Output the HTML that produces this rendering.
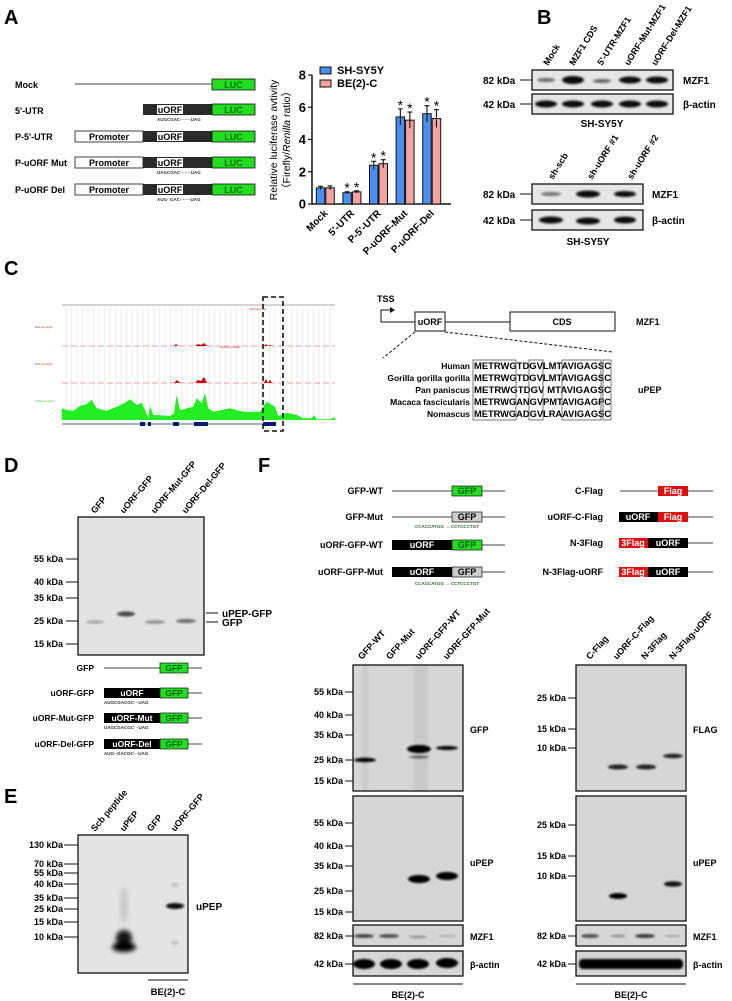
<!DOCTYPE html>
<html><head><meta charset="utf-8">
<style>
html,body{margin:0;padding:0;background:#fff;}
svg{display:block;font-family:"Liberation Sans",sans-serif;}
.b{font-weight:bold;}
.pl{font-size:20px;font-weight:bold;}
.seq{font-size:4.5px;font-weight:bold;fill:#333;}
.blot{stroke:#111;stroke-width:1.3;}
</style></head>
<body>
<svg id="fig" width="732" height="1001" viewBox="0 0 732 1001">
<defs>
<filter id="bl" x="-50%" y="-100%" width="200%" height="300%"><feGaussianBlur stdDeviation="1.1"/></filter>
<filter id="bl2" x="-50%" y="-100%" width="200%" height="300%"><feGaussianBlur stdDeviation="2.5"/></filter>
</defs>

<text class="pl" x="4" y="24">A</text>
<text class="pl" x="537" y="24">B</text>
<text class="pl" x="4" y="275">C</text>
<text class="pl" x="4" y="472">D</text>
<text class="pl" x="4" y="803">E</text>
<text class="pl" x="258" y="472">F</text>

<g font-size="9" font-weight="bold">
 <text x="15" y="88">Mock</text>
 <line x1="75" y1="84" x2="212" y2="84" stroke="#444" stroke-width="1"/>
 <rect x="212" y="79" width="43" height="11" fill="#22dd22" stroke="#111" stroke-width="0.8"/>
 <text x="233.5" y="88" text-anchor="middle" fill="#070">LUC</text>

 <text x="15" y="114">5'-UTR</text>
 <rect x="143" y="104" width="69" height="11" fill="#2a2a2a"/>
 <rect x="157" y="105" width="26" height="9" fill="#fff"/>
 <text x="170" y="113" text-anchor="middle">uORF</text>
 <rect x="212" y="104" width="43" height="11" fill="#22dd22" stroke="#111" stroke-width="0.8"/>
 <text x="233.5" y="113" text-anchor="middle" fill="#070">LUC</text>
 <text class="seq" x="157" y="121">AUGCGAC·······UAG</text>

 <text x="15" y="140">P-5'-UTR</text>
 <rect x="75" y="131" width="68" height="11" fill="#fff" stroke="#111" stroke-width="0.8"/>
 <text x="109" y="140" text-anchor="middle">Promoter</text>
 <rect x="143" y="131" width="69" height="11" fill="#2a2a2a"/>
 <rect x="157" y="132" width="26" height="9" fill="#fff"/>
 <text x="170" y="140" text-anchor="middle">uORF</text>
 <rect x="212" y="131" width="43" height="11" fill="#22dd22" stroke="#111" stroke-width="0.8"/>
 <text x="233.5" y="140" text-anchor="middle" fill="#070">LUC</text>

 <text x="15" y="166">P-uORF Mut</text>
 <rect x="75" y="157" width="68" height="11" fill="#fff" stroke="#111" stroke-width="0.8"/>
 <text x="109" y="166" text-anchor="middle">Promoter</text>
 <rect x="143" y="157" width="69" height="11" fill="#2a2a2a"/>
 <rect x="157" y="158" width="26" height="9" fill="#fff"/>
 <text x="170" y="166" text-anchor="middle">uORF</text>
 <rect x="212" y="157" width="43" height="11" fill="#22dd22" stroke="#111" stroke-width="0.8"/>
 <text x="233.5" y="166" text-anchor="middle" fill="#070">LUC</text>
 <text class="seq" x="157" y="174">UAGCGAC·······UAG</text>

 <text x="15" y="193">P-uORF Del</text>
 <rect x="75" y="184" width="68" height="11" fill="#fff" stroke="#111" stroke-width="0.8"/>
 <text x="109" y="193" text-anchor="middle">Promoter</text>
 <rect x="143" y="184" width="69" height="11" fill="#2a2a2a"/>
 <rect x="157" y="185" width="26" height="9" fill="#fff"/>
 <text x="170" y="193" text-anchor="middle">uORF</text>
 <rect x="212" y="184" width="43" height="11" fill="#22dd22" stroke="#111" stroke-width="0.8"/>
 <text x="233.5" y="193" text-anchor="middle" fill="#070">LUC</text>
 <text class="seq" x="157" y="201">AUG··GAC·······UAG</text>
</g>

<g id="barchart"></g>

<g font-weight="bold">
 <g font-size="9">
  <text transform="translate(548,66) rotate(-58)">Mock</text>
  <text transform="translate(574,66) rotate(-58)">MZF1 CDS</text>
  <text transform="translate(602,66) rotate(-58)">5'-UTR-MZF1</text>
  <text transform="translate(629,66) rotate(-58)">uORF-Mut-MZF1</text>
  <text transform="translate(656,66) rotate(-58)">uORF-Del-MZF1</text>
 </g>
 <rect class="blot" x="532" y="70" width="141" height="20" fill="#e6e6e6"/>
 <rect class="blot" x="532" y="94" width="141" height="20" fill="#e6e6e6"/>
 <g filter="url(#bl)" fill="#111">
  <ellipse cx="546" cy="80" rx="9" ry="2" opacity="0.6"/>
  <ellipse cx="573" cy="80" rx="11" ry="4"/>
  <ellipse cx="602" cy="81" rx="9" ry="2" opacity="0.6"/>
  <ellipse cx="630" cy="80" rx="11" ry="3.5"/>
  <ellipse cx="657" cy="80" rx="11" ry="3.5"/>
  <ellipse cx="546" cy="104" rx="11" ry="3.5"/>
  <ellipse cx="573" cy="104" rx="11" ry="3.5"/>
  <ellipse cx="602" cy="104" rx="11" ry="3.5"/>
  <ellipse cx="630" cy="104" rx="11" ry="3.5"/>
  <ellipse cx="657" cy="104" rx="11" ry="3.5"/>
 </g>
 <g font-size="10">
  <text x="483" y="84">82 kDa</text><line x1="520" y1="80" x2="532" y2="80" stroke="#111"/>
  <text x="483" y="108">42 kDa</text><line x1="520" y1="104" x2="532" y2="104" stroke="#111"/>
  <text x="683" y="84">MZF1</text>
  <text x="683" y="108">β-actin</text>
  <text x="602" y="127" text-anchor="middle">SH-SY5Y</text>
 </g>
 <g font-size="9">
  <text transform="translate(553,180) rotate(-58)">sh-scb</text>
  <text transform="translate(592,180) rotate(-58)">sh-uORF #1</text>
  <text transform="translate(632,180) rotate(-58)">sh-uORF #2</text>
 </g>
 <rect class="blot" x="532" y="184" width="111" height="20" fill="#e6e6e6"/>
 <rect class="blot" x="532" y="210" width="111" height="20" fill="#e6e6e6"/>
 <g filter="url(#bl)" fill="#111">
  <ellipse cx="551" cy="194" rx="10" ry="2" opacity="0.55"/>
  <ellipse cx="588" cy="194" rx="12" ry="3.5"/>
  <ellipse cx="625" cy="194" rx="11" ry="3"/>
  <ellipse cx="551" cy="220" rx="12" ry="3.5"/>
  <ellipse cx="588" cy="221" rx="12" ry="3.5"/>
  <ellipse cx="625" cy="220" rx="11" ry="3.5"/>
 </g>
 <g font-size="10">
  <text x="483" y="198">82 kDa</text><line x1="520" y1="194" x2="532" y2="194" stroke="#111"/>
  <text x="483" y="224">42 kDa</text><line x1="520" y1="220" x2="532" y2="220" stroke="#111"/>
  <text x="652" y="198">MZF1</text>
  <text x="652" y="224">β-actin</text>
  <text x="588" y="245" text-anchor="middle">SH-SY5Y</text>
 </g>
</g>

<g id="browser">
 <line x1="62" y1="305" x2="335" y2="305" stroke="#555" stroke-width="0.6"/>
 <g id="gridlines" stroke="#ddd" stroke-width="0.5"></g>
 <g font-size="2.5" fill="#c33">
  <text x="35" y="328">Ribo-seq signal</text><text x="35" y="365">Ribo-seq signal</text>
  <text x="250" y="310">RiboSeq P-site</text><text x="220" y="348">RiboSeq coverage</text>
 </g>
 <text x="35" y="402" font-size="2.5" fill="#3c3">mRNA-seq signal</text>
 <line x1="62" y1="346" x2="335" y2="346" stroke="#e44" stroke-width="0.6" stroke-dasharray="6,3"/>
 <line x1="62" y1="383" x2="335" y2="383" stroke="#e44" stroke-width="0.6" stroke-dasharray="6,3"/>
 <g fill="#c00">
  <path d="M174,346l2,-2l2,2z M195,346l3,-2l3,1l3,-2l3,3z M264,346l2,-2l2,2l2,-1l2,1z"/>
  <path d="M174,383l3,-3l3,3z M195,383l3,-3l3,1l3,-4l3,6z M264,383l2,-4l2,4l2,-3l2,3z"/>
 </g>
 <path id="greenArea" fill="#22ee22" d=""/>
 <line x1="62" y1="424" x2="276" y2="424" stroke="#224" stroke-width="0.8"/>
 <g fill="#0a1a6a">
  <rect x="140" y="422" width="5" height="4"/><rect x="148" y="422" width="3" height="4"/>
  <rect x="173" y="422" width="6" height="4"/><rect x="194" y="422" width="14" height="4"/>
  <rect x="263" y="422" width="13" height="4"/>
 </g>
 <rect x="263" y="297" width="20" height="134" fill="none" stroke="#111" stroke-width="1.6" stroke-dasharray="5,3"/>
</g>

<g font-weight="bold">
 <text x="377" y="302" font-size="9">TSS</text>
 <polyline points="381,322 381,310 392,310" fill="none" stroke="#111" stroke-width="1"/>
 <polygon points="395,310 390,307 390,313" fill="#111"/>
 <line x1="381" y1="322" x2="615" y2="322" stroke="#111" stroke-width="1"/>
 <rect x="415" y="312" width="30" height="19" fill="#fff" stroke="#111"/>
 <text x="430" y="325" font-size="9" text-anchor="middle">uORF</text>
 <rect x="510" y="312" width="105" height="19" fill="#fff" stroke="#111"/>
 <text x="562" y="325" font-size="9" text-anchor="middle">CDS</text>
 <text x="636" y="325" font-size="9">MZF1</text>
 <line x1="415" y1="332" x2="383" y2="358" stroke="#111" stroke-dasharray="3,2"/>
 <line x1="445" y1="332" x2="613" y2="352" stroke="#111" stroke-dasharray="3,2"/>
 <g font-size="8.5" text-anchor="end" font-family="Liberation Sans Narrow, Liberation Sans, sans-serif">
  <text x="470" y="369">Human</text>
  <text x="470" y="381">Gorilla gorilla gorilla</text>
  <text x="470" y="393">Pan paniscus</text>
  <text x="470" y="405">Macaca fascicularis</text>
  <text x="470" y="417">Nomascus</text>
 </g>
 <g font-size="9" id="seqs"></g>
 <g fill="none" stroke="#555" stroke-width="0.8">
  <rect x="473" y="360" width="43" height="60"/>
  <rect x="529" y="360" width="14" height="60"/>
  <rect x="562" y="360" width="39" height="60"/>
  <rect x="603" y="360" width="8" height="60"/>
 </g>
 <text x="638" y="393" font-size="9">uPEP</text>
</g>

<g font-weight="bold">
 <g font-size="9">
  <text transform="translate(95,514) rotate(-50)">GFP</text>
  <text transform="translate(124,514) rotate(-50)">uORF-GFP</text>
  <text transform="translate(155,514) rotate(-50)">uORF-Mut-GFP</text>
  <text transform="translate(186,514) rotate(-50)">uORF-Del-GFP</text>
 </g>
 <rect class="blot" x="78" y="517" width="126" height="138" fill="#e2e2e2"/>
 <g filter="url(#bl)" fill="#222">
  <ellipse cx="95" cy="622" rx="9" ry="1.5" opacity="0.35"/>
  <ellipse cx="126" cy="614" rx="9" ry="2.5" opacity="0.8"/>
  <ellipse cx="155" cy="622" rx="10" ry="1.8" opacity="0.45"/>
  <ellipse cx="186" cy="621" rx="10" ry="2" opacity="0.6"/>
 </g>
 <g font-size="9" text-anchor="end">
  <text x="63" y="562">55 kDa</text><text x="63" y="585">40 kDa</text><text x="63" y="601">35 kDa</text>
  <text x="63" y="624">25 kDa</text><text x="63" y="647">15 kDa</text>
 </g>
 <g stroke="#111">
  <line x1="66" y1="559" x2="78" y2="559"/><line x1="66" y1="582" x2="78" y2="582"/><line x1="66" y1="598" x2="78" y2="598"/>
  <line x1="66" y1="621" x2="78" y2="621"/><line x1="66" y1="644" x2="78" y2="644"/>
  <line x1="206" y1="613" x2="218" y2="613"/><line x1="206" y1="622" x2="218" y2="622"/>
 </g>
 <text x="222" y="617" font-size="10">uPEP-GFP</text>
 <text x="222" y="626" font-size="10">GFP</text>
 <g font-size="8.5">
  <text x="94" y="671" text-anchor="end">GFP</text>
  <line x1="104" y1="668" x2="202" y2="668" stroke="#444"/>
  <rect x="160" y="663" width="28" height="10" fill="#22dd22" stroke="#111" stroke-width="0.7"/>
  <text x="174" y="671" text-anchor="middle" fill="#060">GFP</text>

  <text x="94" y="696" text-anchor="end">uORF-GFP</text>
  <line x1="104" y1="693" x2="202" y2="693" stroke="#444"/>
  <rect x="104" y="688" width="56" height="10" fill="#000"/>
  <text x="132" y="696" text-anchor="middle" fill="#fff">uORF</text>
  <rect x="160" y="688" width="28" height="10" fill="#22dd22" stroke="#111" stroke-width="0.7"/>
  <text x="174" y="696" text-anchor="middle" fill="#060">GFP</text>
  <text class="seq" x="104" y="704">AUGCGACGC···UAG</text>

  <text x="94" y="721" text-anchor="end">uORF-Mut-GFP</text>
  <line x1="104" y1="718" x2="202" y2="718" stroke="#444"/>
  <rect x="104" y="713" width="56" height="10" fill="#000"/>
  <text x="132" y="721" text-anchor="middle" fill="#fff">uORF-Mut</text>
  <rect x="160" y="713" width="28" height="10" fill="#22dd22" stroke="#111" stroke-width="0.7"/>
  <text x="174" y="721" text-anchor="middle" fill="#060">GFP</text>
  <text class="seq" x="104" y="729">UAGCGACGC···UAG</text>

  <text x="94" y="747" text-anchor="end">uORF-Del-GFP</text>
  <line x1="104" y1="744" x2="202" y2="744" stroke="#444"/>
  <rect x="104" y="739" width="56" height="10" fill="#000"/>
  <text x="132" y="747" text-anchor="middle" fill="#fff">uORF-Del</text>
  <rect x="160" y="739" width="28" height="10" fill="#22dd22" stroke="#111" stroke-width="0.7"/>
  <text x="174" y="747" text-anchor="middle" fill="#060">GFP</text>
  <text class="seq" x="104" y="755">AUG··GACGC···UAG</text>
 </g>
</g>

<g font-weight="bold">
 <g font-size="9">
  <text transform="translate(95,832) rotate(-50)">Scb peptide</text>
  <text transform="translate(124,832) rotate(-50)">uPEP</text>
  <text transform="translate(151,832) rotate(-50)">GFP</text>
  <text transform="translate(175,832) rotate(-50)">uORF-GFP</text>
 </g>
 <rect class="blot" x="78" y="835" width="110" height="138" fill="#e4e4e4"/>
 <g filter="url(#bl2)" fill="#000">
  <ellipse cx="124" cy="905" rx="4" ry="18" opacity="0.12"/>
  <ellipse cx="124" cy="938" rx="8" ry="8" opacity="0.9"/>
  <ellipse cx="124" cy="947" rx="12" ry="5"/>
 </g>
 <g filter="url(#bl)" fill="#111">
  <ellipse cx="175" cy="906" rx="9" ry="3"/>
  <ellipse cx="175" cy="885" rx="4" ry="2" opacity="0.15"/>
  <ellipse cx="175" cy="943" rx="4" ry="2" opacity="0.15"/>
 </g>
 <g font-size="9" text-anchor="end">
  <text x="63" y="848">130 kDa</text><text x="63" y="867">70 kDa</text><text x="63" y="876">55 kDa</text>
  <text x="63" y="887">40 kDa</text><text x="63" y="901">35 kDa</text><text x="63" y="912">25 kDa</text>
  <text x="63" y="925">15 kDa</text><text x="63" y="940">10 kDa</text>
 </g>
 <g stroke="#111">
  <line x1="64" y1="845" x2="78" y2="845"/><line x1="64" y1="864" x2="78" y2="864"/><line x1="64" y1="873" x2="78" y2="873"/>
  <line x1="64" y1="884" x2="78" y2="884"/><line x1="64" y1="898" x2="78" y2="898"/><line x1="64" y1="909" x2="78" y2="909"/>
  <line x1="64" y1="922" x2="78" y2="922"/><line x1="64" y1="937" x2="78" y2="937"/>
  <line x1="148" y1="980" x2="188" y2="980"/>
 </g>
 <text x="196" y="910" font-size="10">uPEP</text>
 <text x="168" y="995" font-size="9.5" text-anchor="middle">BE(2)-C</text>
</g>

<g font-weight="bold" font-size="9">
 <text x="383" y="494" text-anchor="end">GFP-WT</text>
 <line x1="392" y1="491" x2="505" y2="491" stroke="#444"/>
 <rect x="452" y="486" width="30" height="10" fill="#22dd22" stroke="#111" stroke-width="0.7"/>
 <text x="467" y="494" text-anchor="middle" fill="#060">GFP</text>

 <text x="383" y="520" text-anchor="end">GFP-Mut</text>
 <line x1="392" y1="517" x2="505" y2="517" stroke="#444"/>
 <rect x="452" y="512" width="30" height="10" fill="#ccc" stroke="#111" stroke-width="0.7"/>
 <text x="467" y="520" text-anchor="middle">GFP</text>
 <text x="415" y="528" font-size="4.5" fill="#363">CCACCATGG → CCTCCCTGT</text>

 <text x="383" y="548" text-anchor="end">uORF-GFP-WT</text>
 <line x1="392" y1="545" x2="505" y2="545" stroke="#444"/>
 <rect x="392" y="540" width="60" height="10" fill="#000"/>
 <text x="422" y="548" text-anchor="middle" fill="#fff">uORF</text>
 <rect x="452" y="540" width="30" height="10" fill="#22dd22" stroke="#111" stroke-width="0.7"/>
 <text x="467" y="548" text-anchor="middle" fill="#060">GFP</text>

 <text x="383" y="575" text-anchor="end">uORF-GFP-Mut</text>
 <line x1="392" y1="572" x2="505" y2="572" stroke="#444"/>
 <rect x="392" y="567" width="60" height="10" fill="#000"/>
 <text x="422" y="575" text-anchor="middle" fill="#fff">uORF</text>
 <rect x="452" y="567" width="30" height="10" fill="#ccc" stroke="#111" stroke-width="0.7"/>
 <text x="467" y="575" text-anchor="middle">GFP</text>
 <text x="415" y="585" font-size="4.5" fill="#363">CCACCATGG → CCTCCCTGT</text>

 <text x="603" y="494" text-anchor="end">C-Flag</text>
 <line x1="620" y1="491" x2="713" y2="491" stroke="#444"/>
 <rect x="658" y="486" width="30" height="10" fill="#dd1111"/>
 <text x="673" y="494" text-anchor="middle" fill="#fff">Flag</text>

 <text x="603" y="520" text-anchor="end">uORF-C-Flag</text>
 <line x1="620" y1="517" x2="713" y2="517" stroke="#444"/>
 <rect x="619" y="512" width="39" height="10" fill="#000"/>
 <text x="638" y="520" text-anchor="middle" fill="#fff">uORF</text>
 <rect x="658" y="512" width="30" height="10" fill="#dd1111"/>
 <text x="673" y="520" text-anchor="middle" fill="#fff">Flag</text>

 <text x="603" y="546" text-anchor="end">N-3Flag</text>
 <line x1="620" y1="543" x2="713" y2="543" stroke="#444"/>
 <rect x="619" y="538" width="29" height="10" fill="#dd1111"/>
 <text x="633" y="546" text-anchor="middle" fill="#fff">3Flag</text>
 <rect x="648" y="538" width="40" height="10" fill="#000"/>
 <text x="668" y="546" text-anchor="middle" fill="#fff">uORF</text>

 <text x="603" y="575" text-anchor="end">N-3Flag-uORF</text>
 <line x1="620" y1="572" x2="713" y2="572" stroke="#444"/>
 <rect x="619" y="567" width="29" height="10" fill="#dd1111"/>
 <text x="633" y="575" text-anchor="middle" fill="#fff">3Flag</text>
 <rect x="648" y="567" width="40" height="10" fill="#000"/>
 <text x="668" y="575" text-anchor="middle" fill="#fff">uORF</text>
</g>

<g font-weight="bold">
 <g font-size="9">
  <text transform="translate(362,660) rotate(-48)">GFP-WT</text>
  <text transform="translate(390,660) rotate(-48)">GFP-Mut</text>
  <text transform="translate(419,660) rotate(-48)">uORF-GFP-WT</text>
  <text transform="translate(447,660) rotate(-48)">uORF-GFP-Mut</text>
 </g>
 <rect class="blot" x="353" y="665" width="110" height="126" fill="#d6d6d6"/>
 <rect class="blot" x="353" y="796" width="110" height="125" fill="#d6d6d6"/>
 <rect class="blot" x="353" y="925" width="110" height="21" fill="#d6d6d6"/>
 <rect class="blot" x="353" y="951" width="110" height="25" fill="#d6d6d6"/>
 <g filter="url(#bl)" fill="#000">
  <rect x="362" y="665" width="6" height="126" opacity="0.05"/>
  <rect x="414" y="665" width="14" height="126" opacity="0.06"/>
  <ellipse cx="365" cy="760" rx="11" ry="2.2"/>
  <ellipse cx="419" cy="749" rx="12" ry="4"/>
  <ellipse cx="419" cy="757" rx="10" ry="1.2" opacity="0.6"/>
  <ellipse cx="447" cy="748" rx="11" ry="2"/>
  <ellipse cx="419" cy="879" rx="11" ry="4"/>
  <ellipse cx="447" cy="876" rx="11" ry="4"/>
  <ellipse cx="364" cy="936" rx="10" ry="1.8" opacity="0.75"/>
  <ellipse cx="389" cy="936" rx="10" ry="1.8" opacity="0.7"/>
  <ellipse cx="418" cy="937" rx="9" ry="1.2" opacity="0.35"/>
  <ellipse cx="447" cy="936" rx="9" ry="1" opacity="0.2"/>
  <ellipse cx="364" cy="964" rx="11" ry="5"/>
  <ellipse cx="391" cy="964" rx="11" ry="5"/>
  <ellipse cx="418" cy="964" rx="11" ry="5"/>
  <ellipse cx="447" cy="963" rx="11" ry="5"/>
 </g>
 <g font-size="9" text-anchor="end">
  <text x="343" y="695">55 kDa</text><text x="343" y="718">40 kDa</text><text x="343" y="738">35 kDa</text>
  <text x="343" y="763">25 kDa</text><text x="343" y="784">15 kDa</text>
  <text x="343" y="826">55 kDa</text><text x="343" y="849">40 kDa</text><text x="343" y="869">35 kDa</text>
  <text x="343" y="894">25 kDa</text><text x="343" y="915">15 kDa</text>
  <text x="343" y="939">82 kDa</text><text x="343" y="967">42 kDa</text>
 </g>
 <g stroke="#111">
  <line x1="345" y1="692" x2="353" y2="692"/><line x1="345" y1="715" x2="353" y2="715"/><line x1="345" y1="735" x2="353" y2="735"/>
  <line x1="345" y1="760" x2="353" y2="760"/><line x1="345" y1="781" x2="353" y2="781"/>
  <line x1="345" y1="823" x2="353" y2="823"/><line x1="345" y1="846" x2="353" y2="846"/><line x1="345" y1="866" x2="353" y2="866"/>
  <line x1="345" y1="891" x2="353" y2="891"/><line x1="345" y1="912" x2="353" y2="912"/>
  <line x1="345" y1="936" x2="353" y2="936"/><line x1="345" y1="964" x2="353" y2="964"/>
  <line x1="353" y1="984" x2="463" y2="984"/>
 </g>
 <g font-size="9">
  <text x="470" y="733">GFP</text><text x="470" y="866">uPEP</text>
  <text x="470" y="940">MZF1</text><text x="470" y="968">β-actin</text>
 </g>
 <text x="408" y="998" font-size="9" text-anchor="middle">BE(2)-C</text>
</g>

<g font-weight="bold">
 <g font-size="9">
  <text transform="translate(590,660) rotate(-48)">C-Flag</text>
  <text transform="translate(617,660) rotate(-48)">uORF-C-Flag</text>
  <text transform="translate(645,660) rotate(-48)">N-3Flag</text>
  <text transform="translate(673,660) rotate(-48)">N-3Flag-uORF</text>
 </g>
 <rect class="blot" x="576" y="665" width="110" height="126" fill="#d6d6d6"/>
 <rect class="blot" x="576" y="796" width="110" height="125" fill="#d6d6d6"/>
 <rect class="blot" x="576" y="925" width="110" height="21" fill="#d6d6d6"/>
 <rect class="blot" x="576" y="951" width="110" height="25" fill="#d6d6d6"/>
 <g filter="url(#bl)" fill="#000">
  <ellipse cx="618" cy="767" rx="10" ry="2.5" opacity="0.85"/>
  <ellipse cx="646" cy="767" rx="10" ry="2.5" opacity="0.85"/>
  <ellipse cx="673" cy="756" rx="10" ry="2.2" opacity="0.85"/>
  <ellipse cx="618" cy="896" rx="9" ry="3"/>
  <ellipse cx="673" cy="884" rx="9" ry="2.8" opacity="0.9"/>
  <ellipse cx="590" cy="936" rx="9" ry="1.8" opacity="0.7"/>
  <ellipse cx="618" cy="936" rx="8" ry="1.2" opacity="0.35"/>
  <ellipse cx="645" cy="936" rx="10" ry="2" opacity="0.75"/>
  <ellipse cx="673" cy="936" rx="8" ry="1" opacity="0.25"/>
  <rect x="579" y="959" width="104" height="10" rx="4"/>
 </g>
 <g font-size="9" text-anchor="end">
  <text x="566" y="701">25 kDa</text><text x="566" y="732">15 kDa</text><text x="566" y="751">10 kDa</text>
  <text x="566" y="828">25 kDa</text><text x="566" y="859">15 kDa</text><text x="566" y="879">10 kDa</text>
  <text x="566" y="939">82 kDa</text><text x="566" y="967">42 kDa</text>
 </g>
 <g stroke="#111">
  <line x1="568" y1="698" x2="576" y2="698"/><line x1="568" y1="729" x2="576" y2="729"/><line x1="568" y1="748" x2="576" y2="748"/>
  <line x1="568" y1="825" x2="576" y2="825"/><line x1="568" y1="856" x2="576" y2="856"/><line x1="568" y1="876" x2="576" y2="876"/>
  <line x1="568" y1="936" x2="576" y2="936"/><line x1="568" y1="964" x2="576" y2="964"/>
  <line x1="576" y1="984" x2="686" y2="984"/>
 </g>
 <g font-size="9">
  <text x="693" y="733">FLAG</text><text x="693" y="866">uPEP</text>
  <text x="693" y="940">MZF1</text><text x="693" y="968">β-actin</text>
 </g>
 <text x="631" y="998" font-size="9" text-anchor="middle">BE(2)-C</text>
</g>
</svg>

<script>
// ---- Bar chart data (panel A) ----
const categories = ["Mock", "5'-UTR", "P-5'-UTR", "P-uORF-Mut", "P-uORF-Del"];
const shsy5yValues = [1.0, 0.7, 2.4, 5.4, 5.6];
const shsy5yErrors = [0.1, 0.06, 0.25, 0.5, 0.5];
const be2cValues = [1.0, 0.75, 2.5, 5.2, 5.3];
const be2cErrors = [0.12, 0.07, 0.25, 0.5, 0.55];
const significant = [false, true, true, true, true];
const yTicks = [0, 2, 4, 6, 8];
const seriesNames = ["SH-SY5Y", "BE(2)-C"];

const NS = "http://www.w3.org/2000/svg";
function mk(tag, attrs, parent) {
  const e = document.createElementNS(NS, tag);
  for (const k in attrs) e.setAttribute(k, attrs[k]);
  parent.appendChild(e);
  return e;
}
const chart = document.getElementById("barchart");
const X0 = 312, X1 = 445, Y0 = 204, Y1 = 75, YMAX = 8;
function yScale(v) { return Y0 - (v / YMAX) * (Y0 - Y1); }
const band = (X1 - X0) / categories.length;
function xCenter(i) { return X0 + band * (i + 0.5); }
const barW = 8.5;

mk("line", {x1: X0, y1: Y1, x2: X0, y2: Y0, stroke: "#111", "stroke-width": 1.5}, chart);
mk("line", {x1: X0, y1: Y0, x2: X1 + 6, y2: Y0, stroke: "#111", "stroke-width": 1.5}, chart);
yTicks.forEach(t => {
  const y = yScale(t);
  const tk = mk("line", {x1: X0 - 4, y1: y, x2: X0, y2: y, stroke: "#111", "stroke-width": 1.2}, chart);
  
  
  const lb = mk("text", {x: X0 - 6, y: y + 4.5, "text-anchor": "end", "font-size": 13, "font-weight": "bold"}, chart);
  lb.textContent = t;
  
  
});
const yt = mk("text", {transform: "translate(277,140) rotate(-90)", "text-anchor": "middle", "font-size": 10.5}, chart);
yt.textContent = "Relative luciferase avtivity";


const yt2 = mk("text", {transform: "translate(290,140) rotate(-90)", "text-anchor": "middle", "font-size": 10.5}, chart);
yt2.innerHTML = "（Firefly/<tspan font-style='italic'>Renilla</tspan> ratio）";



const colors = ["#4a8ff0", "#f4a4a0"];
const vals = [shsy5yValues, be2cValues];
const errs = [shsy5yErrors, be2cErrors];
categories.forEach((c, i) => {
  const cx = xCenter(i);
  for (let s = 0; s < 2; s++) {
    const x = s === 0 ? cx - barW - 0.5 : cx + 0.5;
    const y = yScale(vals[s][i]);
    const r = mk("rect", {x: x, y: y, width: barW, height: Y0 - y, fill: colors[s], stroke: "#111", "stroke-width": 1}, chart);
    
    
    const bx = x + barW / 2;
    const yt = yScale(vals[s][i] + errs[s][i]), yb = yScale(vals[s][i] - errs[s][i]);
    const eb = mk("path", {d: `M${bx},${yb}V${yt}M${bx-2.5},${yt}H${bx+2.5}`, stroke: "#111", "stroke-width": 1.1, fill: "none"}, chart);
    
    
    if (significant[i]) {
      const st = mk("text", {x: bx, y: yt + 1, "text-anchor": "middle", "font-size": 14}, chart);
      st.textContent = "*";
      
      
    }
  }
  const tl = mk("text", {transform: `translate(${cx + 3},${Y0 + 10}) rotate(-45)`, "text-anchor": "end", "font-size": 10, "font-weight": "bold"}, chart);
  tl.textContent = c;
  
  
});
seriesNames.forEach((n, s) => {
  const ly = 73 + s * 13;
  const lr = mk("rect", {x: 320, y: ly - 6, width: 11, height: 7, fill: colors[s], stroke: "#111", "stroke-width": 1}, chart);
  
  
  const lt = mk("text", {x: 337, y: ly + 1, "font-size": 11, "font-weight": "bold"}, chart);
  lt.textContent = n;
  
  
});

// ---- Genome browser details ----
const grid = document.getElementById("gridlines");
for (let x = 66; x < 335; x += 5.5) {
  mk("line", {x1: x, y1: 307, x2: x, y2: 420}, grid);
}
const greenPts = [[95,420],[95,385],[110,390],[130,392],[150,378],[170,372],[185,360],[200,385],[230,392],[260,380],[290,365],[300,358],[320,375],[335,368],[345,390],[355,415],[360,378],[370,405],[420,408],[432,400],[440,345],[450,390],[490,380],[500,355],[515,370],[525,340],[535,385],[550,395],[600,385],[640,395],[690,395],[710,365],[735,380],[745,408],[770,398],[800,405],[820,415],[845,415],[852,405],[860,418],[900,418],[915,412],[915,420]];
document.getElementById("greenArea").setAttribute("d",
  "M" + greenPts.map(p => (30 + p[0] / 3).toFixed(1) + "," + (280 + p[1] / 3).toFixed(1)).join("L") + "Z");

// ---- Alignment sequences ----
const seqs = ["METRWGTDGVLMTAVIGAGSC","METRWGTDGVLMTAVIGAGSC","METRWGTDGV MTAVIGAGSC","METRWGANGVPMTAVIGAGPC","METRWGADGVLRAAVIGAGSC"];
const sg = document.getElementById("seqs");
seqs.forEach((s, i) => {
  const t = mk("text", {x: 474, y: 369 + i * 12, textLength: 137, lengthAdjust: "spacingAndGlyphs"}, sg);
  t.textContent = s;
  
  
});
</script>
</body></html>
